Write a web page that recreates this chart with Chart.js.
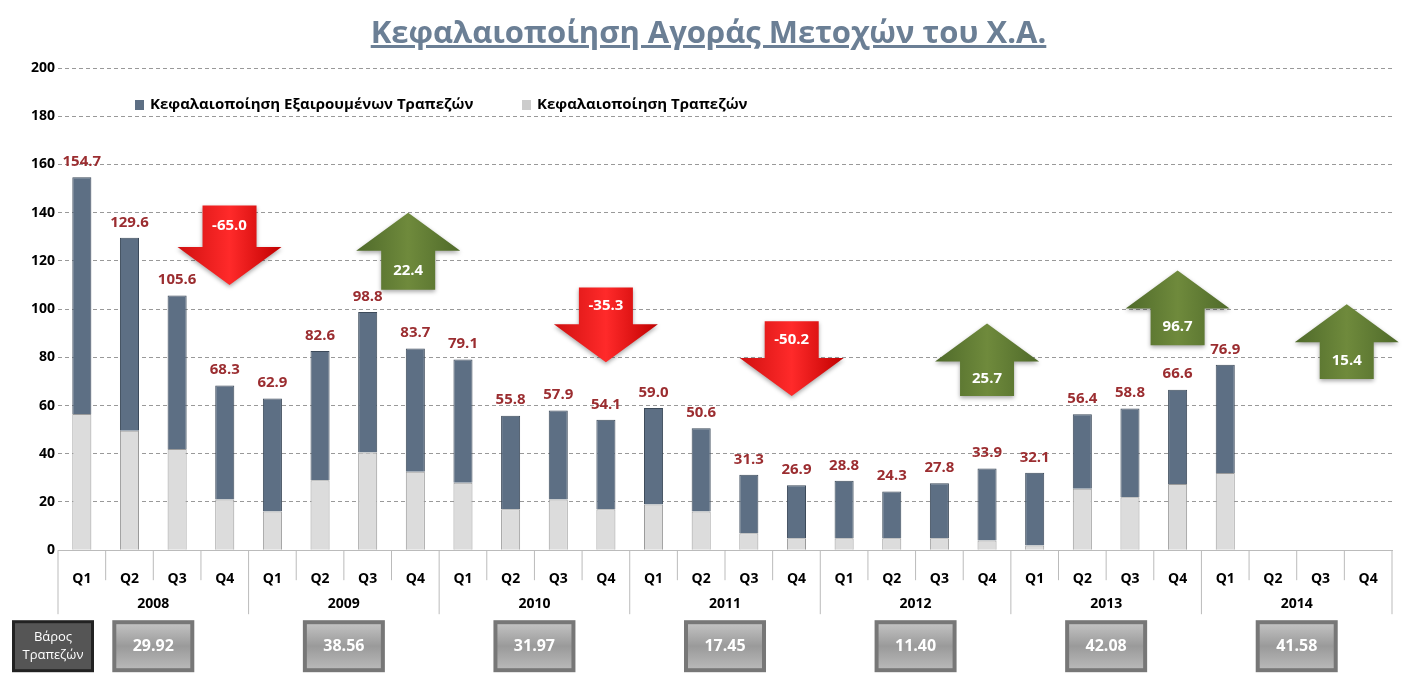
<!DOCTYPE html>
<html><head><meta charset="utf-8">
<script src="https://cdn.jsdelivr.net/npm/chart.js@4.4.1/dist/chart.umd.min.js"></script>
<style>body{margin:0;background:#fff}#w{width:1417px;height:688px;position:relative}
h1{position:absolute;top:10px;left:0;width:1417px;text-align:center;margin:0;font:bold 31px 'Open Sans',sans-serif;color:#6b7f95;text-decoration:underline;}
#c{position:absolute;left:0;top:0}
</style></head><body><div id="w"><canvas id="c" width="1417" height="688"></canvas><h1>Κεφαλαιοποίηση Αγοράς Μετοχών του Χ.Α.</h1></div>
<script>
const quarters=["Q1","Q2","Q3","Q4","Q1","Q2","Q3","Q4","Q1","Q2","Q3","Q4","Q1","Q2","Q3","Q4","Q1","Q2","Q3","Q4","Q1","Q2","Q3","Q4","Q1","Q2","Q3","Q4"];
const years=["2008","2009","2010","2011","2012","2013","2014"];
const totals=[154.7,129.6,105.6,68.3,62.9,82.6,98.8,83.7,79.1,55.8,57.9,54.1,59.0,50.6,31.3,26.9,28.8,24.3,27.8,33.9,32.1,56.4,58.8,66.6,76.9,null,null,null];
const banks=[56.5,49.5,42,21,16,29,40.5,32.5,28,17,21,17,19,16,7,5,5,5,5,4,2,25.5,22,27.5,32,null,null,null];
const weights=["29.92","38.56","31.97","17.45","11.40","42.08","41.58"];
const arrows=[{x:3.1,from:143,to:110,t:"-65.0"},{x:6.85,from:108,to:140,t:"22.4"},{x:11,from:109,to:78,t:"-35.3"},{x:14.9,from:95,to:64,t:"-50.2"},{x:19,from:64,to:94,t:"25.7"},{x:23,from:85,to:116,t:"96.7"},{x:26.55,from:71,to:102,t:"15.4"}];
const other=totals.map((v,i)=>v==null?null:+(v-banks[i]).toFixed(1));
const F="'Open Sans',sans-serif";
const plug={id:'extra',afterDatasetsDraw(ch){
 const c=ch.ctx,x=ch.scales.x,y=ch.scales.y;
 c.save();
 c.font="bold 15px "+F;c.fillStyle="#9b2d30";c.textAlign="center";c.textBaseline="bottom";
 totals.forEach((v,i)=>{if(v!=null)c.fillText(v.toFixed(1),x.getPixelForValue(i),y.getPixelForValue(v)-8);});
 // legend
 c.textAlign="left";c.textBaseline="middle";c.font="bold 15px "+F;c.fillStyle="#000";
 c.fillStyle="#5d6f84";c.fillRect(135,100,9,10);c.fillStyle="#000";c.fillText("Κεφαλαιοποίηση Εξαιρουμένων Τραπεζών",150,105);
 c.fillStyle="#ccc";c.fillRect(522,100,9,10);c.fillStyle="#000";c.fillText("Κεφαλαιοποίηση Τραπεζών",537,105);
 c.textAlign="center";
 arrows.forEach(a=>{
  const cx=x.getPixelForValue(a.x),y1=y.getPixelForValue(a.from),y2=y.getPixelForValue(a.to);
  const up=a.to>a.from,hw=52,bw=27,dir=up?-1:1,head=y2-dir*38;
  c.beginPath();c.moveTo(cx-bw,y1);c.lineTo(cx+bw,y1);c.lineTo(cx+bw,head);c.lineTo(cx+hw,head);c.lineTo(cx,y2);c.lineTo(cx-hw,head);c.lineTo(cx-bw,head);c.closePath();
  const g=c.createLinearGradient(cx-hw,0,cx+hw,0);
  if(up){g.addColorStop(0,"#4f6a2a");g.addColorStop(0.5,"#6f8a3c");g.addColorStop(1,"#4f6a2a");}else{g.addColorStop(0,"#d01010");g.addColorStop(0.5,"#ff2a2a");g.addColorStop(1,"#c00000");}
  c.fillStyle=g;c.shadowColor="rgba(0,0,0,0.35)";c.shadowBlur=4;c.shadowOffsetY=2;c.fill();c.shadowColor="transparent";
  c.fillStyle="#fff";c.font="bold 15px "+F;c.textBaseline="middle";
  c.fillText(a.t,cx,(y1+head)/2);
 });
 const q=(x.getPixelForValue(1)-x.getPixelForValue(0));
 c.strokeStyle="#bbb";c.lineWidth=1;
 for(let i=0;i<=28;i++){const px=x.getPixelForValue(i)-q/2;c.beginPath();c.moveTo(px,y.bottom);c.lineTo(px,y.bottom+(i%4==0?64:30));c.stroke();}
 c.fillStyle="#000";c.font="bold 14px "+F;c.textBaseline="middle";
 years.forEach((t,k)=>{const px=x.getPixelForValue(4*k+1.5);c.fillStyle="#000";c.font="bold 14px "+F;c.fillText(t,px,y.bottom+54);
  const bx=px-41,by=y.bottom+70,bwid=82,bh=52;
  const g=c.createLinearGradient(0,by,0,by+bh);g.addColorStop(0,"#c8c8c8");g.addColorStop(0.5,"#9a9a9a");g.addColorStop(1,"#bdbdbd");
  c.fillStyle="#777";c.fillRect(bx,by,bwid,bh);c.fillStyle=g;c.fillRect(bx+4,by+4,bwid-8,bh-8);
  c.fillStyle="#fff";c.font="bold 16px "+F;c.fillText(weights[k],px,by+bh/2);});
 const bx=12,by=y.bottom+70;
 c.fillStyle="#222";c.fillRect(bx,by,82,52);c.fillStyle="#555";c.fillRect(bx+3,by+3,76,46);
 c.fillStyle="#fff";c.font="13px "+F;c.fillText("Βάρος",bx+41,by+17);c.fillText("Τραπεζών",bx+41,by+35);
 c.restore();}};
const ctx=document.getElementById('c').getContext('2d');
new Chart(ctx,{type:'bar',data:{labels:quarters,datasets:[
 {label:"Κεφαλαιοποίηση Τραπεζών",data:banks,backgroundColor:"#dcdcdc",borderColor:"#9a9a9a",borderWidth:1,stack:'s',barPercentage:0.4,categoryPercentage:1},
 {label:"Κεφαλαιοποίηση Εξαιρουμένων Τραπεζών",data:other,backgroundColor:"#5d6f84",borderColor:"#3c4a5a",borderWidth:1,stack:'s',barPercentage:0.4,categoryPercentage:1}
]},options:{responsive:false,animation:false,layout:{padding:{top:68,bottom:89,right:25,left:28}},
 plugins:{legend:{display:false},tooltip:{enabled:false}},
 scales:{x:{stacked:true,grid:{display:false},border:{color:'#bbb'},ticks:{font:{family:F,size:14,weight:'bold'},color:'#000',padding:12}},
  y:{stacked:true,min:0,max:200,ticks:{stepSize:20,font:{family:F,size:14,weight:'bold'},color:'#000'},grid:{color:'#999',tickLength:0},border:{display:false,dash:[4,3]}}}},
 plugins:[plug]});
</script></body></html>
